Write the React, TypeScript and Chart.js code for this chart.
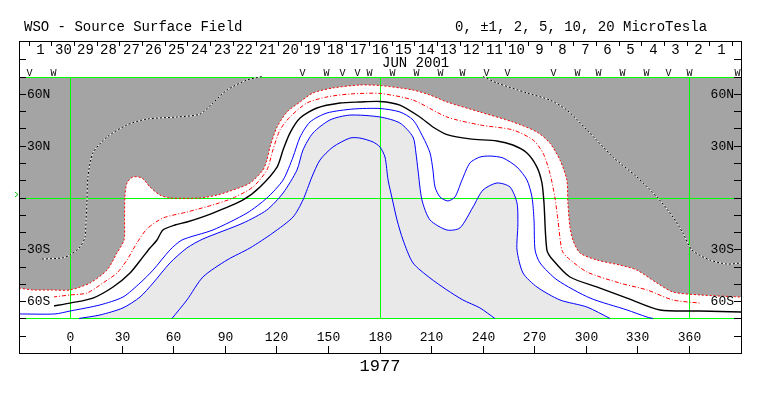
import React, { useEffect, useRef } from "react";
import { Chart, registerables } from "chart.js";
Chart.register(...registerables);

// ---------- texts ----------
const TITLE = "WSO - Source Surface Field";
const LEVELS_TEXT = "0, \u00b11, 2, 5, 10, 20 MicroTesla";
const ROTATION = "1977";
const MONTH_LABEL = "JUN 2001";

// ---------- axes ----------
const lonTicks = [0, 30, 60, 90, 120, 150, 180, 210, 240, 270, 300, 330, 360];
const lonTickLabels = ["0", "30", "60", "90", "120", "150", "180", "210", "240", "270", "300", "330", "360"];
const latTicks = [-80, -70, -60, -50, -40, -30, -20, -10, 0, 10, 20, 30, 40, 50, 60, 70, 80];
const latLabelValues = [60, 30, -30, -60];
const latLabelTexts = ["60N", "30N", "30S", "60S"];

// Carrington day grid (June 2001): lon 360 at June 2.9, 13.199 deg/day
const crStartDay = 2.9;
const degPerDay = 13.199;
const dayBoundaries = [32, 31, 30, 29, 28, 27, 26, 25, 24, 23, 22, 21, 20, 19, 18, 17, 16, 15, 14, 13, 12, 11, 10, 9, 8, 7, 6, 5, 4, 3, 2, 1];
const dayIndex = [31, 30, 29, 28, 27, 26, 25, 24, 23, 22, 21, 20, 19, 18, 17, 16, 15, 14, 13, 12, 11, 10, 9, 8, 7, 6, 5, 4, 3, 2, 1];
const dayLabels = ["1", "30", "29", "28", "27", "26", "25", "24", "23", "22", "21", "20", "19", "18", "17", "16", "15", "14", "13", "12", "11", "10", "9", "8", "7", "6", "5", "4", "3", "2", "1"];

// observation markers
const markerLon = [-24, -10, 135, 149, 158, 167, 174, 187, 201, 215, 228, 242, 254, 281, 295, 307, 321, 335, 348, 360, 388];
const markerGlyph = ["V", "W", "V", "W", "V", "V", "W", "W", "W", "W", "W", "V", "V", "V", "W", "W", "W", "W", "V", "W", "W"];

// ---------- contours [lon, lat] ----------
const contourMinus2: number[][] = [[-30,-52.4],[-21.9,-53.5],[-11.8,-53.5],[-0.3,-53.5],[11.3,-49.5],[21.2,-42],[27,-32.1],[31.1,-24.6],[31.4,-13],[31.6,0.3],[32.8,8.4],[36.3,11.9],[41.5,11.3],[46.2,6.1],[52,1.4],[57.8,-0.3],[75.3,-0.3],[85.2,1.4],[94.5,4.3],[104.4,8.4],[111.9,15.9],[114.2,21.7],[116,29.2],[120.1,40.8],[125.9,49.5],[133.5,55.3],[141,60.5],[152.6,63.4],[168.3,65.1],[180,64.8],[199.2,62.2],[209.1,59.3],[218.9,55.3],[238.1,49.5],[257.3,43.7],[271.3,37.9],[278.8,31.5],[284.7,21.7],[288.7,10.1],[289.3,-3.2],[290.5,-17.1],[292.2,-24.6],[296.3,-32.1],[306.2,-36.2],[319.5,-39.1],[329.4,-42],[341.1,-49.5],[350.4,-54.7],[366.1,-56.4],[390,-57.6]];
const contourMinus1: number[][] = [[-10.2,-57.6],[-0.3,-56.4],[9.5,-55.3],[18.8,-49.5],[27,-43.7],[32.8,-36.2],[38.6,-26.3],[44.4,-18.2],[53.7,-11.9],[67.7,-8.4],[82.8,-4.3],[94.5,-0.3],[106.1,6.1],[114.2,15.9],[117.7,27.5],[121.8,39.1],[127.6,46.6],[137.5,54.7],[149.1,58.2],[162.5,59.9],[180,60.2],[199.2,56.4],[218.9,46.6],[238.1,42],[257.3,39.1],[269,33.3],[274.8,25.8],[278.8,14.2],[281.7,0.3],[283.5,-13],[285.8,-30.4],[288.7,-34.4],[300.4,-43.1],[319.5,-49.5],[335.3,-53.5],[350.4,-59.3],[366.1,-61.1]];
const contourZero: number[][] = [[-10.2,-62.8],[-0.3,-61.1],[13,-58.2],[24.7,-51.8],[34.6,-43.7],[42.1,-34.4],[46.2,-29.2],[50.3,-24.6],[53.7,-18.8],[60.7,-15.9],[67.7,-14.2],[82.8,-9],[100.3,-1.4],[110.2,6.1],[120.1,17.6],[123.6,27.5],[127.6,37.3],[133.5,46],[143.3,51.8],[156.7,54.7],[168.3,55.3],[180,55.6],[191.6,53.5],[203.2,46.6],[210.8,40.8],[219.5,36.2],[232.3,33.9],[248,32.7],[257.3,30.4],[265.5,25.8],[271.3,17.6],[274.2,8.4],[275.4,-3.2],[277.1,-30.4],[280.6,-36.2],[290.5,-46],[308,-52.4],[323.7,-58.2],[342.9,-65.1],[366.1,-65.7],[390,-66.3]];
const contourPlus1: number[][] = [[-30,-67.4],[-9.1,-67.4],[-0.3,-65.7],[17.1,-62.2],[30.5,-57.6],[40.4,-49.5],[48,-42],[57.8,-30.4],[64.8,-24.6],[82.8,-18.8],[102.6,-9],[114.2,-0.3],[123.6,10.1],[129.4,23.4],[133.5,35],[139.3,43.7],[149.1,48.9],[164.3,51.2],[180,51.5],[191.6,49.5],[199.2,44.9],[205,35],[209.1,25.8],[210.8,15.9],[212,6.1],[214.9,0.3],[219.5,-2],[223.6,0.3],[227.7,10.1],[232.3,20],[238.1,23.4],[244,24],[251.5,22.9],[259.7,17.6],[265.5,10.1],[268.4,0.3],[269.6,-13],[270.2,-30.4],[273.1,-37.9],[283,-47.7],[302.2,-58.2],[323.7,-65.1],[335.3,-69.2],[338.8,-70]];
const contourPlus2: number[][] = [[4.9,-70],[17.1,-68],[30.5,-63.9],[40.4,-57.6],[48,-49.5],[57.8,-37.9],[67.7,-29.2],[77,-24],[100.3,-14.8],[114.2,-7.2],[123.6,2.6],[131.7,15.9],[135.2,27.5],[141,37.3],[150.9,44.9],[162.5,47.7],[180,46.6],[191.6,43.1],[199.2,35],[200.9,25.8],[202.1,15.9],[204.4,-1.4],[209.1,-13],[218.9,-18.8],[226.5,-17.6],[234.1,-5.5],[239.9,4.3],[248,8.4],[255.6,6.1],[259.7,-3.2],[260.2,-15.9],[259.7,-30.4],[263.2,-43.7],[271.3,-51.8],[284.7,-59.3],[300.4,-63.4],[313.8,-70]];
const contourPlus5: number[][] = [[59,-70],[67.7,-59.3],[77,-46],[91,-36.2],[104.4,-29.2],[117.7,-20.5],[129.4,-11.3],[135.2,-1.4],[140.4,11.9],[145.1,21.7],[152.6,29.2],[162.5,34.4],[168.3,34.4],[176,32.1],[180,29.2],[182.9,23.4],[184.7,10.1],[187,-0.3],[189.9,-13],[193.4,-24.6],[199.2,-37.9],[209.1,-46.6],[218.9,-53.5],[228.2,-59.3],[238.1,-63.9],[246.8,-70]];
const contourMinus5West: number[][] = [[-16.6,-35.6],[-5,-35],[-0.3,-33.3],[5.5,-28.6],[8.4,-22.9],[9,-13],[9.5,-3.2],[10.1,11.9],[13,25.8],[21.2,35],[32.8,42],[44.4,45.4],[61.9,46.6],[75.3,48.3],[82.8,54.7],[91,62.2],[102.6,68],[111.3,70]];
const contourMinus5East: number[][] = [[239.9,70],[248,66.3],[265.5,60.5],[278.8,56.4],[288.7,50.6],[300.4,39.1],[315.5,23.4],[329.4,11.9],[341.1,0.3],[350.4,-11.3],[356.2,-20.5],[361.5,-30.4],[371.9,-36.2],[381.8,-38.5],[390,-37.9]];

const greenLats = [70, 0, -70];
const greenLons = [0, 180, 360];

const MONO = '"Liberation Mono", "DejaVu Sans Mono", monospace';
const DARK = "#a4a4a4";
const LIGHT = "#e9e9e9";

const pts = (a: number[][]) => a.map(([x, y]) => ({ x, y }));
const TRANSP = "rgba(0,0,0,0)";

function lineDs(label: string, data: number[][], color: string, extra: any = {}) {
  return {
    label,
    data: pts(data),
    borderColor: color,
    borderWidth: 1,
    pointRadius: 0,
    tension: 0.25,
    fill: false,
    order: 10,
    ...extra,
  };
}

const decor = {
  id: "decor",
  beforeDatasetsDraw(chart: any) {
    const { ctx, chartArea, scales } = chart;
    const y1 = Math.round(scales.y.getPixelForValue(70));
    const y2 = Math.round(scales.y.getPixelForValue(-70));
    ctx.save();
    ctx.fillStyle = DARK;
    ctx.fillRect(chartArea.left, y1, chartArea.right - chartArea.left, y2 - y1);
    ctx.restore();
  },
  afterDatasetDraw(chart: any, args: any) {
    if (chart.data.datasets[args.index].label !== "fillPositive") return;
    const { ctx, chartArea, scales } = chart;
    const { left, right } = chartArea;
    ctx.save();
    ctx.strokeStyle = "#00ff00";
    ctx.lineWidth = 1;
    ctx.beginPath();
    for (const lat of greenLats) {
      const yy = Math.round(scales.y.getPixelForValue(lat)) + 0.5;
      ctx.moveTo(left, yy);
      ctx.lineTo(right + 1, yy);
    }
    const yt = Math.round(scales.y.getPixelForValue(70));
    const yb = Math.round(scales.y.getPixelForValue(-70));
    for (const lon of greenLons) {
      const xx = Math.floor(scales.x.getPixelForValue(lon)) + 0.5;
      ctx.moveTo(xx, yt);
      ctx.lineTo(xx, yb);
    }
    ctx.stroke();
    ctx.restore();
  },
  afterDatasetsDraw(chart: any) {
    const { ctx, chartArea, scales } = chart;
    const { left, right, top, bottom } = chartArea;
    const px = (v: number) => Math.floor(scales.x.getPixelForValue(v));
    const py = (v: number) => Math.round(scales.y.getPixelForValue(v));
    ctx.save();

    // white boxes behind 60S labels
    const y60s = py(-60);
    ctx.fillStyle = "#ffffff";
    ctx.fillRect(left + 7, y60s - 5, 28, 12);
    ctx.fillRect(right - 33, y60s - 4, 27, 11);

    ctx.strokeStyle = "#000";
    ctx.lineWidth = 1;
    ctx.beginPath();
    // latitude ticks
    for (const lat of latTicks) {
      const yy = py(lat) + 0.5;
      ctx.moveTo(left, yy);
      ctx.lineTo(left + 7, yy);
      ctx.moveTo(right - 7, yy);
      ctx.lineTo(right, yy);
    }
    // longitude ticks
    for (const lon of lonTicks) {
      const xx = px(lon) + 0.5;
      ctx.moveTo(xx, bottom - 7);
      ctx.lineTo(xx, bottom);
    }
    // day ticks
    for (const d of dayBoundaries) {
      const lon = 360 - (d - crStartDay) * degPerDay;
      const xx = px(lon) + 0.5;
      ctx.moveTo(xx, top - 1);
      ctx.lineTo(xx, top + 4);
    }
    ctx.stroke();

    ctx.fillStyle = "#000";
    // latitude labels
    ctx.font = `13px ${MONO}`;
    ctx.textBaseline = "middle";
    latLabelValues.forEach((lat, i) => {
      const yy = py(lat) + 0.5;
      ctx.textAlign = "left";
      ctx.fillText(latLabelTexts[i], left + 8, yy);
      ctx.textAlign = "right";
      ctx.fillText(latLabelTexts[i], right - 7, yy);
    });
    // longitude labels
    ctx.textAlign = "center";
    lonTicks.forEach((lon, i) => {
      ctx.fillText(lonTickLabels[i], px(lon) + 0.5, bottom - 15);
    });
    // day labels
    ctx.font = `14px ${MONO}`;
    ctx.textBaseline = "alphabetic";
    dayLabels.forEach((t, i) => {
      const lon = 360 - (dayIndex[i] + 0.5 - crStartDay) * degPerDay;
      ctx.fillText(t, px(lon) + 0.5, top + 11.5);
    });
    ctx.textAlign = "left";
    ctx.fillText(MONTH_LABEL, px(181.5), top + 24.5);
    // markers
    ctx.font = `10px ${MONO}`;
    ctx.textAlign = "center";
    markerLon.forEach((lon, i) => {
      ctx.fillText(markerGlyph[i], px(lon) + 0.5, top + 34);
    });

    // green chevron at equator
    const y0 = py(0);
    ctx.strokeStyle = "#00cc00";
    ctx.beginPath();
    ctx.moveTo(left - 4, y0 - 6);
    ctx.lineTo(left - 1, y0 - 3.5);
    ctx.lineTo(left - 4, y0 - 1);
    ctx.stroke();

    // frame
    ctx.strokeStyle = "#000";
    ctx.strokeRect(left + 0.5, top - 0.5, right - left, bottom - top + 1);
    ctx.restore();
  },
  afterDraw(chart: any) {
    const { ctx } = chart;
    ctx.save();
    ctx.fillStyle = "#000";
    ctx.font = `14px ${MONO}`;
    ctx.textBaseline = "alphabetic";
    ctx.textAlign = "left";
    ctx.fillText(TITLE, 16, 23);
    ctx.fillText(LEVELS_TEXT, 447, 23);
    ctx.font = `17px ${MONO}`;
    ctx.textAlign = "center";
    ctx.fillText(ROTATION, 372, 363);
    ctx.restore();
  },
};

export default function App() {
  const ref = useRef<HTMLCanvasElement>(null);
  useEffect(() => {
    const datasets: any[] = [
      lineDs("neutral", contourZero, "#000000", { borderWidth: 1.4 }),
      lineDs("minus1", contourMinus1, "#ff0000", { borderDash: [4, 2, 1, 2] }),
      lineDs("minus2", contourMinus2, "#ff0000", { borderDash: [2, 2] }),
      lineDs("plus1", contourPlus1, "#0000ff"),
      lineDs("plus2", contourPlus2, "#0000ff"),
      lineDs("plus5", contourPlus5, "#0000ff"),
      lineDs("minus5wB", contourMinus5West, "#000000", { borderDash: [2, 2] }),
      lineDs("minus5eB", contourMinus5East, "#000000", { borderDash: [2, 2] }),
      lineDs("minus5wW", contourMinus5West, "#ffffff", { order: 11 }),
      lineDs("minus5eW", contourMinus5East, "#ffffff", { order: 11 }),
      lineDs("fillNegative", contourMinus2, TRANSP, { fill: { value: -70 }, backgroundColor: "#ffffff", order: 90 }),
      lineDs("fillPositive", contourPlus2, TRANSP, { fill: { value: -70 }, backgroundColor: LIGHT, order: 80 }),
    ];
    const chart = new Chart(ref.current!, {
      type: "line",
      data: { datasets },
      options: {
        animation: false,
        responsive: false,
        devicePixelRatio: 1,
        events: [],
        layout: { padding: { left: 11, right: 14, top: 34, bottom: 35 } },
        scales: {
          x: { type: "linear", min: -30, max: 390, display: false },
          y: { type: "linear", min: -90, max: 90, display: false },
        },
        plugins: { legend: { display: false }, tooltip: { enabled: false }, title: { display: false } },
      },
      plugins: [decor],
    } as any);
    return () => chart.destroy();
  }, []);
  return (
    <div style={{ width: 747, height: 380 }}>
      <canvas ref={ref} width={747} height={380} style={{ display: "block" }} />
    </div>
  );
}
